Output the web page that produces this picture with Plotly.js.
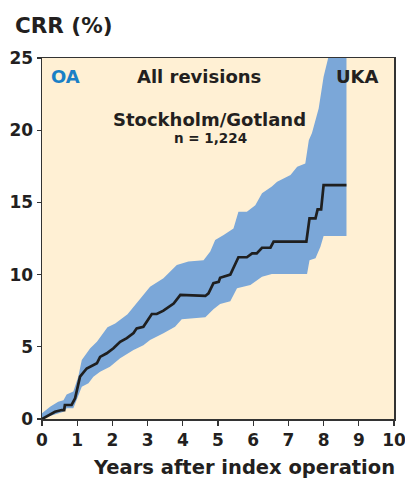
<!DOCTYPE html>
<html>
<head>
<meta charset="utf-8">
<script src="https://cdn.plot.ly/plotly-3.0.1.min.js"></script>
<style>html,body{margin:0;padding:0;background:#fff;}#chart{width:405px;height:478px;}</style>
</head>
<body>
<div id="chart"></div>
<script>
// Main estimate (cumulative revision rate, %)
const crrYears = [0, 0.37, 0.56, 0.63, 0.65, 0.84, 0.94, 1.08, 1.27, 1.56, 1.65, 1.84, 2.03, 2.22, 2.41, 2.6, 2.69, 2.88, 3.12, 3.26, 3.45, 3.74, 3.93, 4.64, 4.73, 4.87, 5.02, 5.06, 5.35, 5.58, 5.82, 5.97, 6.1, 6.25, 6.49, 6.58, 7.51, 7.6, 7.77, 7.83, 7.93, 8.0, 8.65];
const crrValues = [0, 0.5, 0.62, 0.62, 0.97, 0.97, 1.43, 2.93, 3.5, 3.86, 4.3, 4.55, 4.9, 5.35, 5.6, 5.95, 6.28, 6.39, 7.27, 7.27, 7.5, 8.0, 8.59, 8.52, 8.7, 9.4, 9.5, 9.78, 10.0, 11.2, 11.2, 11.47, 11.47, 11.86, 11.86, 12.28, 12.28, 13.9, 13.9, 14.52, 14.52, 16.2, 16.2];

// Upper confidence limit
const upperYears = [0, 0.23, 0.46, 0.61, 0.7, 0.89, 1.03, 1.13, 1.37, 1.56, 1.86, 2.08, 2.43, 2.69, 3.07, 3.45, 3.83, 4.16, 4.59, 4.78, 4.92, 5.16, 5.44, 5.58, 5.82, 6.06, 6.25, 6.53, 6.68, 7.06, 7.25, 7.48, 7.58, 7.67, 7.86, 8.0, 8.13, 8.65];
const upperValues = [0.4, 0.85, 1.2, 1.3, 1.7, 1.9, 2.93, 4.08, 4.9, 5.35, 6.35, 6.62, 7.25, 8.0, 9.16, 9.74, 10.66, 10.9, 11.0, 11.6, 12.4, 12.74, 13.2, 14.36, 14.36, 14.8, 15.63, 16.1, 16.43, 16.9, 17.47, 17.7, 19.3, 19.8, 21.5, 23.7, 25, 25];

// Lower confidence limit
const lowerYears = [0, 0.32, 0.61, 0.7, 0.89, 0.99, 1.13, 1.32, 1.46, 1.65, 1.93, 2.22, 2.6, 2.88, 3.07, 3.45, 3.78, 3.97, 4.64, 4.87, 5.06, 5.35, 5.54, 5.92, 6.25, 6.53, 7.53, 7.6, 7.77, 7.91, 8.0, 8.65];
const lowerValues = [0.05, 0.28, 0.5, 0.74, 0.74, 1.3, 2.24, 2.47, 2.93, 3.28, 3.62, 4.2, 4.78, 5.1, 5.47, 5.93, 6.39, 6.9, 7.05, 7.6, 7.96, 8.15, 9.05, 9.28, 9.85, 10.04, 10.04, 11.0, 11.13, 11.93, 12.67, 12.67];

const xTicks = [0, 1, 2, 3, 4, 5, 6, 7, 8, 9, 10];
const yTicks = [0, 5, 10, 15, 20, 25];

const bandX = upperYears.concat(lowerYears.slice().reverse());
const bandY = upperValues.concat(lowerValues.slice().reverse());

const fontFam = '"DejaVu Sans", "Liberation Sans", Arial, sans-serif';
const txt = '#231f20';

const traces = [
  {x: bandX, y: bandY, type: 'scatter', mode: 'lines', fill: 'toself',
   fillcolor: '#7ba7d8', line: {width: 0, color: '#7ba7d8'}, hoverinfo: 'skip', showlegend: false},
  {x: crrYears, y: crrValues, type: 'scatter', mode: 'lines',
   line: {color: '#1f1f1f', width: 2.7}, showlegend: false}
];

const layout = {
  width: 405, height: 478,
  margin: {l: 42, r: 11, t: 58, b: 59},
  paper_bgcolor: '#ffffff',
  plot_bgcolor: '#fff0d4',
  showlegend: false,
  xaxis: {
    range: [0, 10], tickvals: xTicks, ticktext: xTicks.map(String),
    showgrid: false, zeroline: false, showline: true, mirror: true,
    linecolor: '#333', linewidth: 1.5, ticks: 'outside', ticklen: 5, tickcolor: '#333', tickwidth: 1.2,
    ticklabeloverflow: 'allow',
    tickfont: {family: fontFam, size: 17, color: txt, weight: 'bold'}
  },
  yaxis: {
    range: [0, 25], tickvals: yTicks, ticktext: yTicks.map(String),
    showgrid: false, zeroline: false, showline: true, mirror: true,
    linecolor: '#333', linewidth: 1.5, ticks: 'outside', ticklen: 4, tickcolor: '#333', tickwidth: 1.2,
    ticklabeloverflow: 'allow',
    tickfont: {family: fontFam, size: 17, color: txt, weight: 'bold'}
  },
  annotations: [
    {text: '<b>CRR (%)</b>', xref: 'paper', yref: 'paper', x: -0.082, y: 1.091, xanchor: 'left', yanchor: 'middle',
     showarrow: false, font: {family: fontFam, size: 21.5, color: txt}},
    {text: '<b>Years after index operation</b>', xref: 'paper', yref: 'paper', x: 0.574, y: -0.133, xanchor: 'center', yanchor: 'middle',
     showarrow: false, font: {family: fontFam, size: 19.5, color: txt}},
    {text: '<b>OA</b>', xref: 'paper', yref: 'paper', x: 0.068, y: 0.95, xanchor: 'center', yanchor: 'middle',
     showarrow: false, font: {family: fontFam, size: 18, color: '#1a80c6'}},
    {text: '<b>All revisions</b>', xref: 'paper', yref: 'paper', x: 0.447, y: 0.95, xanchor: 'center', yanchor: 'middle',
     showarrow: false, font: {family: fontFam, size: 18, color: txt}},
    {text: '<b>UKA</b>', xref: 'paper', yref: 'paper', x: 0.896, y: 0.95, xanchor: 'center', yanchor: 'middle',
     showarrow: false, font: {family: fontFam, size: 18, color: txt}},
    {text: '<b>Stockholm/Gotland</b>', xref: 'paper', yref: 'paper', x: 0.476, y: 0.831, xanchor: 'center', yanchor: 'middle',
     showarrow: false, font: {family: fontFam, size: 18, color: txt}},
    {text: '<b>n = 1,224</b>', xref: 'paper', yref: 'paper', x: 0.48, y: 0.778, xanchor: 'center', yanchor: 'middle',
     showarrow: false, font: {family: fontFam, size: 13.5, color: txt}}
  ]
};

Plotly.newPlot('chart', traces, layout, {staticPlot: true, displayModeBar: false});
</script>
</body>
</html>
